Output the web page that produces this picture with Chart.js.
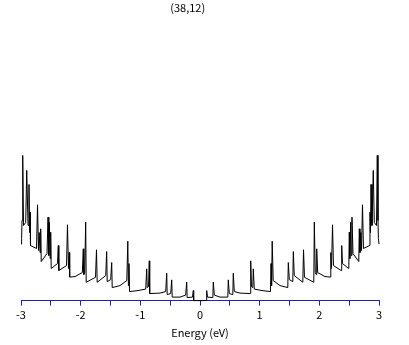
<!DOCTYPE html>
<html>
<head>
<meta charset="utf-8">
<script src="https://cdn.jsdelivr.net/npm/chart.js@4.4.1/dist/chart.umd.min.js"></script>
<style>
  html, body { margin: 0; padding: 0; background: #fff; }
  #wrap { width: 409px; height: 345px; }
</style>
</head>
<body>
<div id="wrap"><canvas id="dosChart"></canvas></div>
<script>
// density of states of the (38,12) tube (arbitrary units)
const energy = [
  -3.000, -2.990, -2.983, -2.971, -2.958, -2.921, -2.904, -2.882, -2.866, -2.857,
  -2.849, -2.841, -2.740, -2.723, -2.707, -2.695, -2.681, -2.670, -2.661, -2.564,
  -2.547, -2.534, -2.526, -2.511, -2.502, -2.494, -2.388, -2.375, -2.366, -2.237,
  -2.221, -2.204, -2.192, -2.184, -2.095, -1.972, -1.956, -1.947, -1.932, -1.916,
  -1.907, -1.751, -1.735, -1.723, -1.580, -1.564, -1.555, -1.497, -1.480, -1.471,
  -1.341, -1.227, -1.210, -1.200, -1.190, -1.181, -1.039, -0.910, -0.893, -0.885,
  -0.863, -0.850, -0.843, -0.670, -0.575, -0.558, -0.550, -0.491, -0.474, -0.466,
  -0.335, -0.240, -0.223, -0.215, -0.126, -0.112, -0.106,
  0.000,
  0.106, 0.112, 0.126, 0.215, 0.223, 0.240, 0.335, 0.466, 0.474, 0.491,
  0.550, 0.558, 0.575, 0.670, 0.843, 0.850, 0.863, 0.885, 0.893, 0.910,
  1.039, 1.181, 1.190, 1.200, 1.210, 1.227, 1.341, 1.471, 1.480, 1.497,
  1.555, 1.564, 1.580, 1.723, 1.735, 1.751, 1.907, 1.916, 1.932, 1.947,
  1.956, 1.972, 2.095, 2.184, 2.192, 2.204, 2.221, 2.237, 2.366, 2.375,
  2.388, 2.494, 2.502, 2.511, 2.526, 2.534, 2.547, 2.564, 2.661, 2.670,
  2.681, 2.695, 2.707, 2.723, 2.740, 2.841, 2.849, 2.857, 2.866, 2.882,
  2.904, 2.921, 2.958, 2.971, 2.983, 2.990, 3.000
];
const dos = [
  5.65, 6.20, 8.00, 14.50, 7.50, 7.80, 13.00, 7.50, 11.60, 6.80,
  8.83, 5.50, 5.20, 9.57, 5.00, 6.80, 4.80, 7.17, 3.90, 4.70,
  8.33, 4.50, 7.83, 4.20, 6.83, 3.20, 3.70, 5.50, 3.00, 3.50,
  7.57, 3.20, 4.80, 2.35, 2.40, 2.80, 5.17, 2.60, 2.80, 7.85,
  1.83, 2.33, 5.07, 1.83, 2.50, 4.90, 1.90, 2.10, 3.80, 1.30,
  1.50, 2.00, 5.93, 1.50, 3.70, 0.90, 1.00, 1.15, 3.17, 1.30,
  1.40, 3.97, 0.70, 0.75, 0.90, 2.73, 0.60, 0.70, 2.07, 0.35,
  0.35, 0.55, 1.85, 0.30, 0.35, 1.00, 0.00,
  0.00,
  0.00, 1.00, 0.35, 0.30, 1.85, 0.55, 0.35, 0.35, 2.07, 0.70,
  0.60, 2.73, 0.90, 0.75, 0.70, 3.97, 1.40, 1.30, 3.17, 1.15,
  1.00, 0.90, 3.70, 1.50, 5.93, 2.00, 1.50, 1.30, 3.80, 2.10,
  1.90, 4.90, 2.50, 1.83, 5.07, 2.33, 1.83, 7.85, 2.80, 2.60,
  5.17, 2.80, 2.40, 2.35, 4.80, 3.20, 7.57, 3.50, 3.00, 5.50,
  3.70, 3.20, 6.83, 4.20, 7.83, 4.50, 8.33, 4.70, 3.90, 7.17,
  4.80, 6.80, 5.00, 9.57, 5.20, 5.50, 8.83, 6.80, 11.60, 7.50,
  13.00, 7.80, 7.50, 14.50, 8.00, 6.20, 5.65
];
const xRange = [-3, 3];
const chartTitle = '(38,12)';
const xTitle = 'Energy (eV)';

const axisBlue = '#2020b0';
const font = "'Noto Sans CJK JP', 'DejaVu Sans', sans-serif";

const points = energy.map((e, i) => ({ x: e, y: dos[i] }));

const ctx = document.getElementById('dosChart').getContext('2d');
new Chart(ctx, {
    type: 'line',
    data: {
        datasets: [{
            data: points,
            borderColor: '#000',
            borderWidth: 1,
            pointRadius: 0,
            tension: 0,
            fill: false,
            clip: false
        }]
    },
    options: {
        responsive: true,
        maintainAspectRatio: false,
        animation: false,
        events: [],
        layout: { padding: { left: 21, right: 30, top: 0, bottom: 0 } },
        plugins: {
            legend: { display: false },
            tooltip: { enabled: false },
            title: {
                // trailing spaces nudge the title left, as in the original
                display: true,
                text: chartTitle + '          ',
                color: '#000',
                font: { family: font, size: 11, weight: 'normal' },
                padding: { top: 1, bottom: 6 }
            }
        },
        scales: {
            x: {
                type: 'linear',
                min: xRange[0],
                max: xRange[1],
                grid: {
                    drawOnChartArea: false,
                    drawTicks: true,
                    tickLength: 5,
                    color: axisBlue,
                    lineWidth: 1
                },
                border: { display: true, color: axisBlue, width: 1 },
                ticks: {
                    stepSize: 0.5,
                    autoSkip: false,
                    maxRotation: 0,
                    padding: 3,
                    color: '#000',
                    font: { family: font, size: 11 },
                    callback: v => Number.isInteger(v) ? String(v) : ''
                },
                title: {
                    display: true,
                    text: xTitle,
                    color: '#000',
                    font: { family: font, size: 11 },
                    padding: { top: 1, bottom: 6 }
                }
            },
            y: {
                display: false,
                min: 0,
                max: 28
            }
        }
    }
});
</script>
</body>
</html>
